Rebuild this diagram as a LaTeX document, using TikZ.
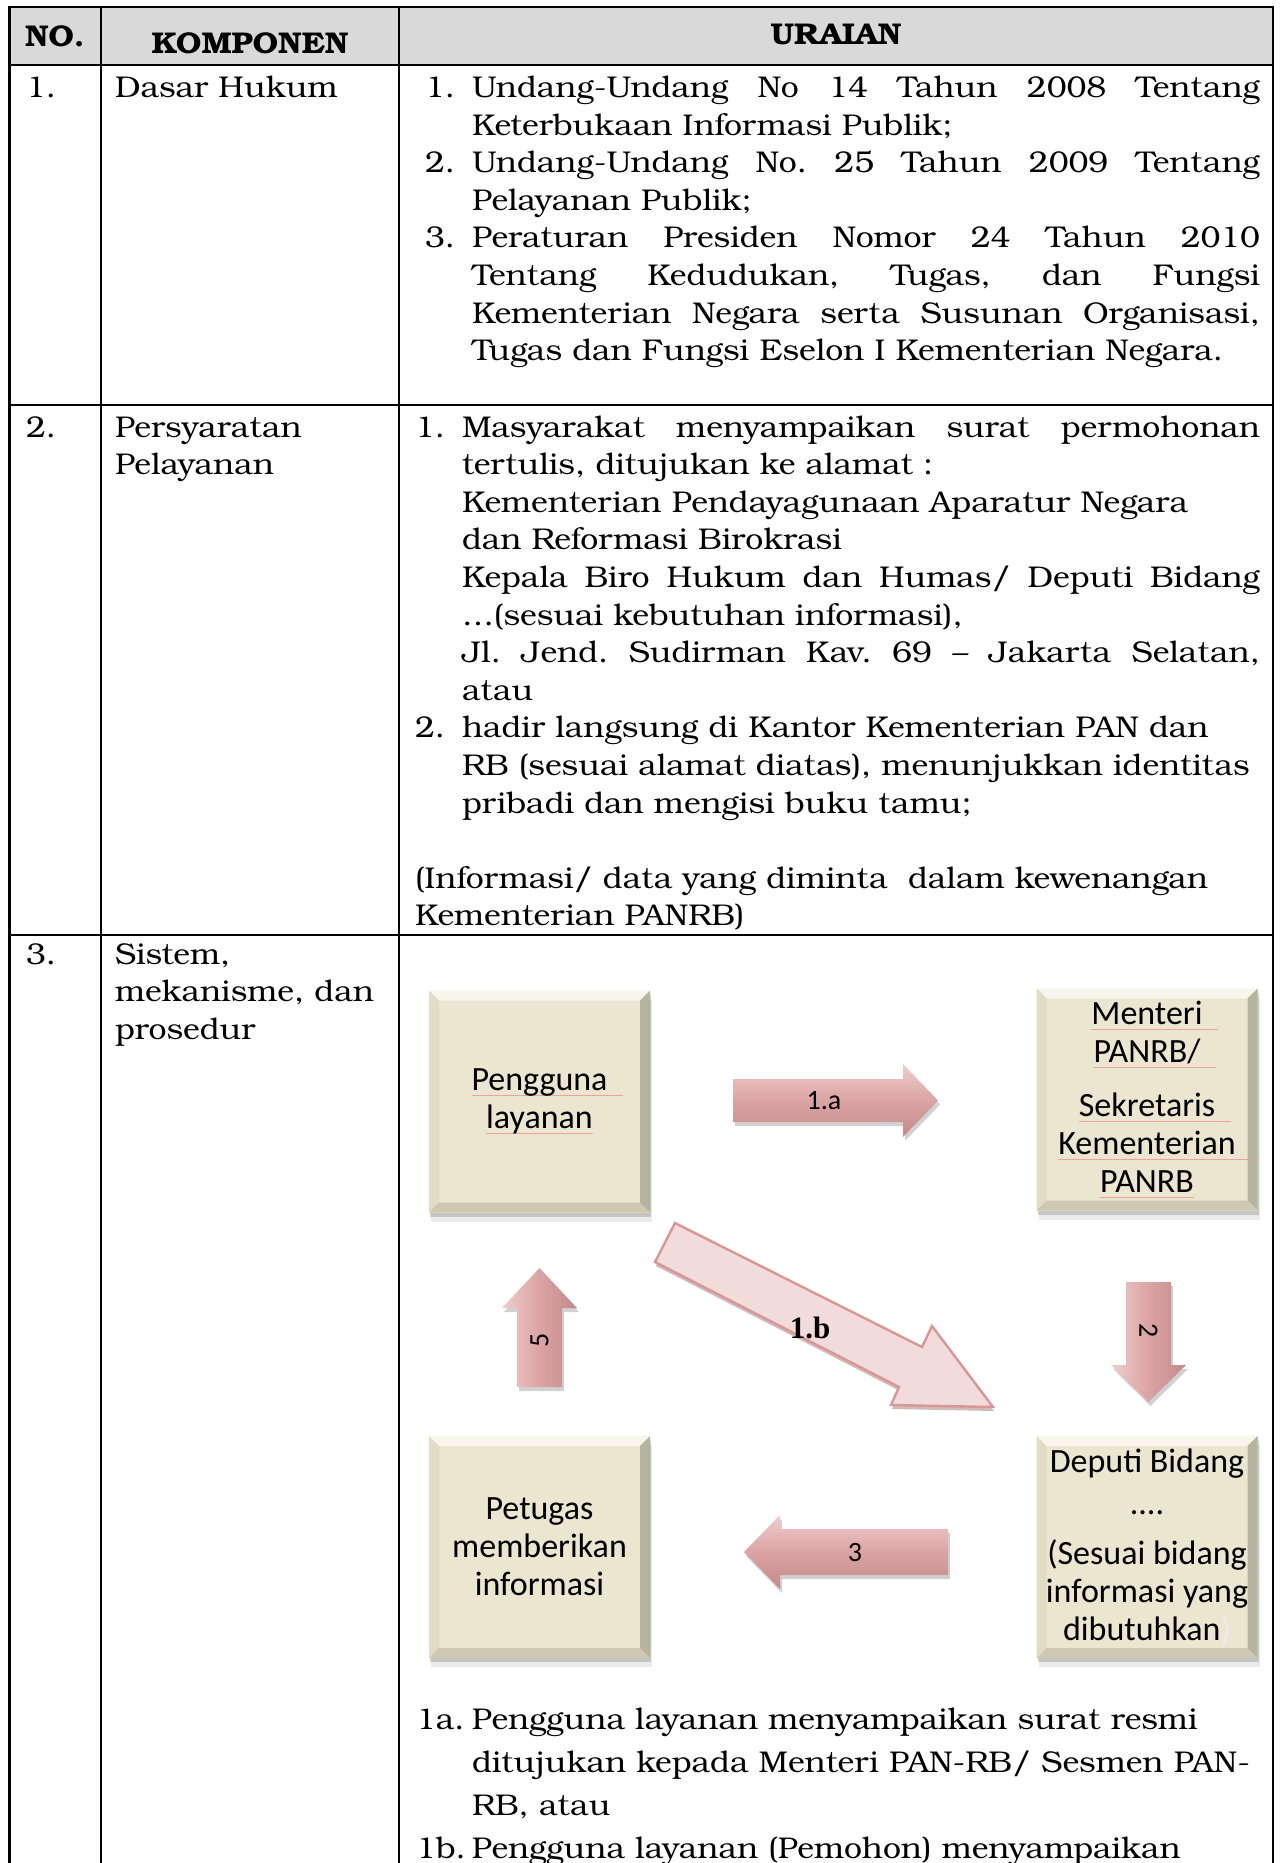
\documentclass[tikz,border=0pt]{standalone}
\usepackage{fontspec}
\setmainfont{texgyrebonum}[Extension=.otf,UprightFont=*-regular,BoldFont=*-bold,ItalicFont=*-italic,BoldItalicFont=*-bolditalic,FakeStretch=1.065]
\newfontfamily\boxfont{Carlito}
\newfontfamily\tnrfont{Liberation Serif}
\usetikzlibrary{shadows}
\definecolor{hdrgray}{HTML}{D9D9D9}
\definecolor{boxfill}{HTML}{EAE6D0}
\definecolor{bevtop}{HTML}{F7F5EC}
\definecolor{bevleft}{HTML}{E1DCC4}
\definecolor{bevright}{HTML}{B8B39C}
\definecolor{bevbot}{HTML}{CDC8AF}
\definecolor{arrtop}{HTML}{EFCDCD}
\definecolor{arrmid}{HTML}{DBA3A3}
\definecolor{arrbot}{HTML}{C48A8A}
\definecolor{diagfill}{HTML}{F2DCDB}
\definecolor{diagline}{HTML}{D99694}
\definecolor{squig}{HTML}{F0A0A0}
\definecolor{faint}{HTML}{EDEDED}
\newsavebox\sqbox
\newcommand\lbl[2]{\makebox[#1][l]{#2}}
\newcommand\jl[2]{\makebox[#1][s]{#2}}
\newcommand\sqw[1]{\sbox\sqbox{#1}\rlap{\textcolor{squig}{\rule[-6pt]{\wd\sqbox}{1.3pt}}}#1}
\newcommand\sqwt[1]{\sbox\sqbox{#1\ \ }\rlap{\textcolor{squig}{\rule[-6pt]{\wd\sqbox}{1.3pt}}}#1}
\newcommand\bev{10pt}
\frenchspacing
\begin{document}
\begin{tikzpicture}[x=1pt,y=-1pt,
  tline/.style={line width=2.4pt,line cap=rect},
  cell/.style={anchor=base west,inner sep=0pt,outer sep=0pt,font=\fontsize{30}{37.6}\selectfont},
  hdr/.style={anchor=base,inner sep=0pt,font=\fontsize{30}{36}\selectfont\bfseries},
  bbox/.style={fill=boxfill,inner sep=4pt,align=center,minimum width=221pt,minimum height=222pt,
    font=\boxfont\fontsize{34}{38}\selectfont,
    general shadow={fill=black,opacity=0.08,shadow xshift=2pt,shadow yshift=-9pt},
    general shadow={fill=black,opacity=0.16,shadow xshift=1pt,shadow yshift=-4pt},
    path picture={
      \fill[bevtop] (path picture bounding box.north west) -- (path picture bounding box.north east)
        -- ([xshift=-\bev,yshift=-\bev]path picture bounding box.north east)
        -- ([xshift=\bev,yshift=-\bev]path picture bounding box.north west) -- cycle;
      \fill[bevleft] (path picture bounding box.north west) -- ([xshift=\bev,yshift=-\bev]path picture bounding box.north west)
        -- ([xshift=\bev,yshift=\bev]path picture bounding box.south west) -- (path picture bounding box.south west) -- cycle;
      \fill[bevright] (path picture bounding box.north east) -- ([xshift=-\bev,yshift=-\bev]path picture bounding box.north east)
        -- ([xshift=-\bev,yshift=\bev]path picture bounding box.south east) -- (path picture bounding box.south east) -- cycle;
      \fill[bevbot] (path picture bounding box.south west) -- ([xshift=\bev,yshift=\bev]path picture bounding box.south west)
        -- ([xshift=-\bev,yshift=\bev]path picture bounding box.south east) -- (path picture bounding box.south east) -- cycle;
    }},
  harrow/.style={top color=arrtop,bottom color=arrbot,middle color=arrmid,
    general shadow={fill=black,opacity=0.18,shadow xshift=2pt,shadow yshift=-4pt}},
  varrow/.style={left color=arrtop,right color=arrbot,middle color=arrmid,
    general shadow={fill=black,opacity=0.18,shadow xshift=2pt,shadow yshift=-4pt}},
  alabel/.style={inner sep=0pt,font=\boxfont\fontsize{28}{32}\selectfont}
]
\fill[white] (0,0) rectangle (1280,1863);
\useasboundingbox (0,0) rectangle (1280,1863);
% header
\fill[hdrgray] (9.5,7) rectangle (1273,65);
\draw[tline] (9.5,1880) -- (9.5,7) -- (1273,7) -- (1273,1880);
\draw[tline] (9.5,65) -- (1273,65);
\draw[tline] (9.5,405) -- (1273,405);
\draw[tline] (9.5,935) -- (1273,935);
\draw[tline] (101,7) -- (101,1880);
\draw[tline] (399,7) -- (399,1880);
\node[hdr] (hno) at (55,46) {NO.};
\node[hdr] (hkomp) at (250,53) {KOMPONEN};
\node[hdr] (hurai) at (836,44) {URAIAN};
% column 1 and 2
\node[cell] (n1) at (26,97.5) {1.};
\node[cell] (n2) at (26,437) {2.};
\node[cell] (n3) at (26,964) {3.};
\node[cell] (k1) at (115,97.5) {Dasar Hukum};
\node[cell] (k2) at (115,437) {\begin{minipage}[t]{270pt}Persyaratan\par Pelayanan\end{minipage}};
\node[cell] (k3) at (115,964) {\begin{minipage}[t]{270pt}Sistem,\par mekanisme, dan\par prosedur\end{minipage}};
% row 1 uraian
\node[cell] (u1) at (425,97.5) {\begin{minipage}[t]{835pt}
\lbl{47pt}{1.}\jl{788pt}{Undang-Undang No 14 Tahun 2008 Tentang}\par
\lbl{47pt}{}Keterbukaan Informasi Publik;\par
\lbl{47pt}{2.}\jl{788pt}{Undang-Undang No. 25 Tahun 2009 Tentang}\par
\lbl{47pt}{}Pelayanan Publik;\par
\lbl{47pt}{3.}\jl{788pt}{Peraturan Presiden Nomor 24 Tahun 2010}\par
\lbl{47pt}{}\jl{788pt}{Tentang Kedudukan, Tugas, dan Fungsi}\par
\lbl{47pt}{}\jl{788pt}{Kementerian Negara serta Susunan Organisasi,}\par
\lbl{47pt}{}Tugas dan Fungsi Eselon I Kementerian Negara.\par
\end{minipage}};
% row 2 uraian
\node[cell] (u2) at (415,437) {\begin{minipage}[t]{845pt}
\lbl{47pt}{1.}\jl{798pt}{Masyarakat menyampaikan surat permohonan}\par
\lbl{47pt}{}tertulis, ditujukan ke alamat :\par
\lbl{47pt}{}Kementerian Pendayagunaan Aparatur Negara\par
\lbl{47pt}{}dan Reformasi Birokrasi\par
\lbl{47pt}{}\jl{798pt}{Kepala Biro Hukum dan Humas/ Deputi Bidang}\par
\lbl{47pt}{}…(sesuai kebutuhan informasi),\par
\lbl{47pt}{}\jl{798pt}{Jl. Jend. Sudirman Kav. 69 – Jakarta Selatan,}\par
\lbl{47pt}{}atau\par
\lbl{47pt}{2.}hadir langsung di Kantor Kementerian PAN dan\par
\lbl{47pt}{}RB (sesuai alamat diatas), menunjukkan identitas\par
\lbl{47pt}{}pribadi dan mengisi buku tamu;\par
\mbox{}\par
(Informasi/ data yang diminta\ \ dalam kewenangan\par
Kementerian PANRB)\par
\end{minipage}};
% diagram boxes
\node[bbox] (A) at (539.5,1101.5) {\sqwt{Pengguna}\\\sqw{layanan}};
\node[bbox] (B) at (1147,1099.5) {\sqwt{Menteri}\\\sqwt{PANRB/}\\[16pt]\sqwt{Sekretaris}\\\sqwt{Kementerian}\\\sqw{PANRB}};
\node[bbox] (C) at (539.5,1547) {Petugas\\memberikan\\informasi};
\node[bbox] (D) at (1147,1547) {Deputi Bidang\\[4pt]....\\[12pt](Sesuai bidang\\informasi yang\\dibutuhkan\textcolor{faint}{)}};
% block arrows
\path[harrow] (733,1079) -- (903,1079) -- (903,1064) -- (938,1100.5) -- (903,1137) -- (903,1122) -- (733,1122) -- cycle;
\node[alabel] (l1a) at (824,1101) {1.a};
\path[varrow] (1126,1282) -- (1171,1282) -- (1171,1365) -- (1186,1365) -- (1148.5,1402) -- (1111,1365) -- (1126,1365) -- cycle;
\node[alabel,rotate=-90] (l2) at (1148.5,1331) {2};
\path[harrow] (948,1529) -- (780,1529) -- (780,1515) -- (744,1552) -- (780,1589) -- (780,1575) -- (948,1575) -- cycle;
\node[alabel] (l3) at (855,1552) {3};
\path[varrow] (517,1387) -- (517,1308) -- (502,1308) -- (539.5,1268) -- (577,1308) -- (562,1308) -- (562,1387) -- cycle;
\node[alabel,rotate=90] (l5) at (539.5,1340) {5};
% diagonal arrow 1.b
\path[fill=diagfill,draw=diagline,line width=2.4pt,line join=miter,
  general shadow={fill=diagline!70!black,opacity=0.45,shadow xshift=1pt,shadow yshift=-4pt}]
  (675,1223) -- (922,1347) -- (932,1326) -- (993,1407) -- (891,1405) -- (899,1387) -- (655,1262) -- cycle;
\node[inner sep=0pt,font=\tnrfont\bfseries\fontsize{31}{34}\selectfont] (l1b) at (810,1328) {1.b};
% explanation text
\node[cell,font=\fontsize{30}{43}\selectfont] (ket) at (416,1729) {\begin{minipage}[t]{860pt}
\lbl{56pt}{1a.}Pengguna layanan menyampaikan surat resmi\par
\lbl{56pt}{}ditujukan kepada Menteri PAN-RB/ Sesmen PAN-\par
\lbl{56pt}{}RB, atau\par
\lbl{56pt}{1b.}Pengguna layanan (Pemohon) menyampaikan\par
\end{minipage}};
\end{tikzpicture}
\end{document}
